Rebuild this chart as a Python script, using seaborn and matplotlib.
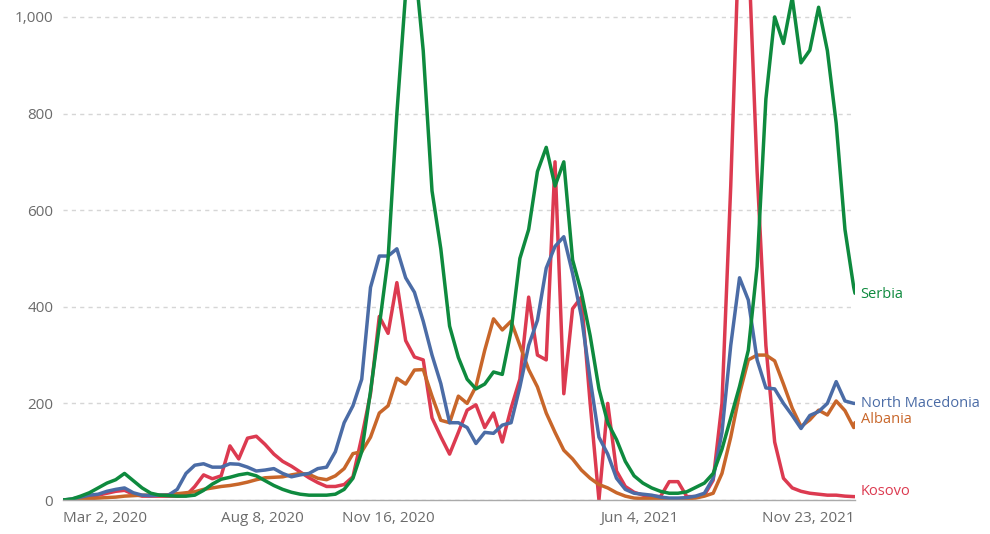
"""Weekly new cases line chart for four Balkan countries."""

import matplotlib
matplotlib.use("Agg")
import matplotlib.pyplot as plt
import pandas as pd
import seaborn as sns

# weekly samples from Mar 2, 2020, plus the last day (Nov 23, 2021)
dates = list(pd.date_range("2020-03-02", periods=91, freq="7D")) + [pd.Timestamp("2021-11-23")]

serbia = [0, 2, 8, 15, 25, 35, 42, 55, 40, 25,
          14, 10, 9, 8, 8, 10, 20, 33, 43, 47,
          52, 55, 50, 40, 30, 22, 16, 12, 10, 10,
          10, 12, 22, 45, 100, 225, 360, 500, 800, 1050,
          1120, 930, 640, 520, 360, 295, 250, 230, 240, 265,
          260, 350, 500, 560, 680, 730, 650, 700, 497, 430,
          340, 230, 160, 125, 80, 50, 35, 25, 18, 14,
          14, 17, 26, 35, 55, 105, 170, 235, 310, 483,
          830, 1000, 945, 1040, 905, 931, 1020, 930, 780, 560,
          440, 428]

north_macedonia = [0, 2, 6, 10, 12, 18, 22, 25, 15, 10,
                   9, 10, 10, 22, 55, 72, 75, 68, 68, 75,
                   74, 68, 60, 62, 65, 55, 48, 52, 55, 65,
                   68, 100, 160, 195, 250, 440, 505, 505, 520, 460,
                   430, 370, 300, 241, 160, 160, 150, 117, 140, 138,
                   155, 160, 234, 320, 372, 480, 525, 545, 469, 380,
                   250, 130, 95, 45, 22, 14, 12, 10, 6, 4,
                   4, 5, 8, 14, 45, 140, 320, 460, 414, 290,
                   232, 230, 200, 175, 148, 175, 183, 200, 245, 205,
                   200, 200]

albania = [0, 1, 2, 3, 4, 5, 6, 8, 9, 10,
           10, 10, 11, 13, 15, 17, 22, 25, 28, 30,
           33, 37, 42, 46, 47, 48, 52, 55, 53, 45,
           42, 50, 65, 96, 100, 130, 180, 195, 252, 240,
           269, 270, 215, 165, 160, 215, 200, 235, 310, 375,
           352, 370, 320, 270, 234, 180, 140, 103, 85, 62,
           45, 32, 25, 15, 8, 4, 3, 3, 2, 2,
           2, 3, 4, 8, 14, 55, 130, 220, 290, 300,
           300, 288, 240, 190, 152, 166, 186, 176, 205, 185,
           150, 160]

kosovo = [0, 1, 3, 6, 10, 14, 18, 20, 12, 8,
          8, 8, 8, 8, 9, 28, 52, 44, 50, 112,
          85, 128, 132, 115, 95, 80, 70, 58, 46, 36,
          28, 28, 32, 48, 130, 220, 380, 345, 450, 330,
          296, 290, 170, 131, 95, 140, 186, 197, 150, 180,
          120, 190, 250, 420, 300, 290, 700, 220, 396, 420,
          200, 0, 200, 60, 28, 16, 10, 8, 7, 38,
          38, 7, 7, 10, 41, 200, 650, 1200, 1150, 680,
          320, 120, 45, 25, 18, 14, 12, 10, 10, 8,
          7, 7]

countries = ["Kosovo", "Albania", "North Macedonia", "Serbia"]
series = [kosovo, albania, north_macedonia, serbia]
colors = {"Serbia": "#0e8a3e", "North Macedonia": "#4b6ca6",
          "Albania": "#c8662a", "Kosovo": "#dc3a50"}

tick_dates = ["2020-03-02", "2020-08-08", "2020-11-16", "2021-06-04", "2021-11-23"]
tick_labels = ["Mar 2, 2020", "Aug 8, 2020", "Nov 16, 2020", "Jun 4, 2021", "Nov 23, 2021"]
y_ticks = [0, 200, 400, 600, 800, 1000]
y_labels = ["0", "200", "400", "600", "800", "1,000"]

df = pd.concat(
    [pd.DataFrame({"date": dates, "cases": vals, "country": name})
     for name, vals in zip(countries, series)],
    ignore_index=True,
)

sns.set_style("white")
plt.rcParams["font.family"] = ["Open Sans", "DejaVu Sans"]

fig = plt.figure(figsize=(9.9, 5.34), dpi=100)
ax = fig.add_axes([63 / 990, 34 / 534, 792 / 990, 500 / 534])

sns.lineplot(data=df, x="date", y="cases", hue="country", hue_order=countries,
             palette=colors, linewidth=2.5, legend=False, ax=ax)

ax.set_xlim(dates[0], dates[-1])
ax.set_ylim(0, 1035)
ax.set_xlabel("")
ax.set_ylabel("")

ax.set_yticks(y_ticks)
ax.set_yticklabels(y_labels)
ax.set_xticks(pd.to_datetime(tick_dates))
ax.set_xticklabels(tick_labels)
for lbl, ha in zip(ax.get_xticklabels(), ["left", "center", "center", "center", "right"]):
    lbl.set_horizontalalignment(ha)

ax.tick_params(axis="y", length=0, pad=7, labelsize=11, labelcolor="#6b6b6b")
ax.tick_params(axis="x", length=5, width=1, color="#aaaaaa", pad=3,
               labelsize=11, labelcolor="#6b6b6b")

ax.yaxis.grid(True, linestyle=(0, (3, 3)), color="#d6d6d6", linewidth=1)
ax.set_axisbelow(True)
for side in ["top", "right", "left"]:
    ax.spines[side].set_visible(False)
ax.spines["bottom"].set_color("#aaaaaa")
ax.spines["bottom"].set_linewidth(1)

# end labels
label_offsets = {"Serbia": -1, "North Macedonia": 0, "Albania": 2, "Kosovo": 4}
for name, vals in zip(countries, series):
    ax.annotate(name, xy=(dates[-1], vals[-1]), xytext=(4, label_offsets[name]),
                textcoords="offset points", va="center", ha="left",
                fontsize=10.5, color=colors[name], annotation_clip=False)

fig.savefig("out.png", dpi=100)
plt.close(fig)
